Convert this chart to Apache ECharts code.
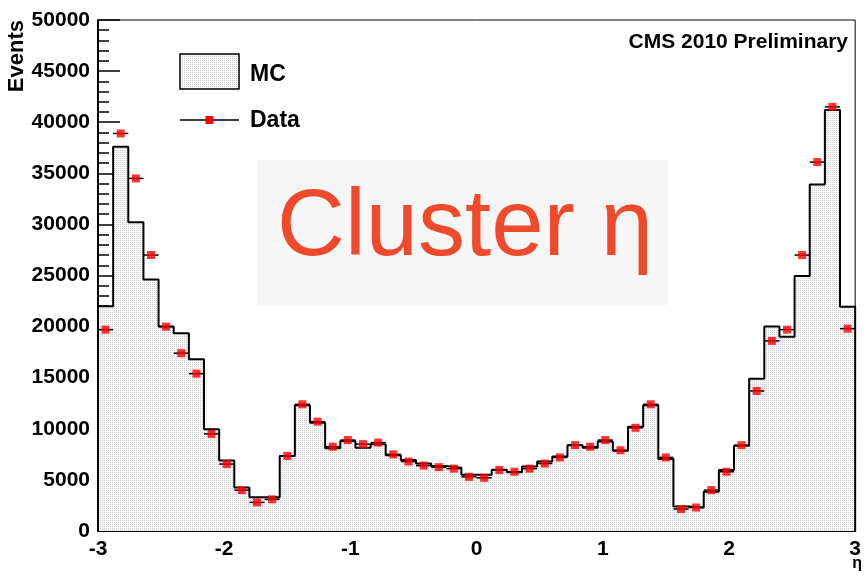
<!DOCTYPE html>
<html>
<head>
<meta charset="utf-8">
<script src="https://cdn.jsdelivr.net/npm/echarts@6/dist/echarts.min.js"></script>
<style>
html,body{margin:0;padding:0;background:#fff;}
#chart{width:864px;height:576px;}
</style>
</head>
<body>
<div id="chart"></div>
<script>
// ---- data ----
var binWidth = 0.12;
var etaCenters = [-2.94,-2.82,-2.70,-2.58,-2.46,-2.34,-2.22,-2.10,-1.98,-1.86,
                  -1.74,-1.62,-1.50,-1.38,-1.26,-1.14,-1.02,-0.90,-0.78,-0.66,
                  -0.54,-0.42,-0.30,-0.18,-0.06,0.06,0.18,0.30,0.42,0.54,
                  0.66,0.78,0.90,1.02,1.14,1.26,1.38,1.50,1.62,1.74,
                  1.86,1.98,2.10,2.22,2.34,2.46,2.58,2.70,2.82,2.94];
var mcValues = [22000,37600,30200,24600,20000,19350,16800,9950,6900,4250,
                3300,3300,7350,12300,10600,8100,8800,8150,8500,7400,
                6950,6600,6350,6200,5500,5500,6000,5750,6300,6800,
                7300,8400,8150,8750,7850,10200,12300,7050,2400,2300,
                3850,5970,8350,14900,20000,19000,24950,33900,41200,21950];
var dataValues = [19700,38900,34500,27000,20000,17400,15400,9500,6550,4000,
                  2800,3100,7350,12400,10700,8250,8900,8500,8650,7500,
                  6800,6400,6250,6100,5300,5200,5970,5800,6100,6600,
                  7200,8400,8250,8900,7900,10100,12400,7200,2150,2300,
                  4000,5800,8400,13700,18600,19700,27000,36100,41500,19800];
var xTicks = [-3,-2,-1,0,1,2,3];
var yTicks = [0,5000,10000,15000,20000,25000,30000,35000,40000,45000,50000];

// ---- build ----
var stepData = [[etaCenters[0]-binWidth/2, 0]];
for (var i = 0; i < etaCenters.length; i++) {
  stepData.push([etaCenters[i]-binWidth/2, mcValues[i]]);
  stepData.push([etaCenters[i]+binWidth/2, mcValues[i]]);
}
stepData.push([etaCenters[etaCenters.length-1]+binWidth/2, 0]);
var points = etaCenters.map(function(c, i){ return [c, dataValues[i]]; });

// dotted fill pattern
var pat = document.createElement('canvas');
pat.width = 2; pat.height = 2;
var pc = pat.getContext('2d');
pc.fillStyle = '#f7f7f7'; pc.fillRect(0,0,2,2);
pc.fillStyle = '#d2d2d2'; pc.fillRect(0,0,1,1);

var FONT = '"Liberation Sans", Arial, Helvetica, sans-serif';
var chart = echarts.init(document.getElementById('chart'), null, {renderer:'canvas'});
chart.setOption({
  animation: false,
  backgroundColor: '#ffffff',
  grid: {left: 98, right: 3, top: 20, bottom: 45, show: true, borderColor: '#000', borderWidth: 1, backgroundColor: 'transparent'},
  xAxis: {
    type: 'value', min: xTicks[0], max: xTicks[xTicks.length-1], interval: 1,
    axisLine: {onZero: false, lineStyle: {color: '#000', width: 2}},
    axisTick: {inside: true, length: 17, lineStyle: {color: '#000', width: 1.5}},
    minorTick: {show: true, splitNumber: 5, length: 9, lineStyle: {color: '#000', width: 1.5}},
    splitLine: {show: false},
    axisLabel: {color: '#000', fontWeight: 'bold', fontSize: 21, fontFamily: FONT, margin: 8,
                formatter: function(v){ return String(v); }}
  },
  yAxis: {
    type: 'value', min: yTicks[0], max: yTicks[yTicks.length-1], interval: 5000,
    axisLine: {onZero: false, lineStyle: {color: '#000', width: 2}},
    axisTick: {inside: true, length: 22, lineStyle: {color: '#000', width: 1.5}},
    minorTick: {show: true, splitNumber: 5, length: 11, lineStyle: {color: '#000', width: 1.5}},
    splitLine: {show: false},
    axisLabel: {color: '#000', fontWeight: 'bold', fontSize: 21, fontFamily: FONT, margin: 8,
                formatter: function(v){ return String(v); }}
  },
  series: [
    {
      name: 'MC', type: 'line', data: stepData, symbol: 'none', z: 2,
      lineStyle: {color: '#000', width: 2},
      areaStyle: {color: {image: pat, repeat: 'repeat'}, opacity: 1}
    },
    {
      name: 'DataErr', type: 'custom', data: points, z: 3,
      renderItem: function(params, api) {
        var c = api.value(0), v = api.value(1);
        var p1 = api.coord([c - binWidth/2, v]);
        var p2 = api.coord([c + binWidth/2, v]);
        return {type: 'line', shape: {x1: p1[0], y1: p1[1], x2: p2[0], y2: p2[1]},
                style: {stroke: '#000', lineWidth: 1.5}};
      }
    },
    {
      name: 'Data', type: 'scatter', data: points, symbol: 'rect', symbolSize: 8, z: 4,
      itemStyle: {color: '#ff0000'}
    }
  ],
  graphic: [
    {type: 'rect', shape: {x: 257, y: 160, width: 411, height: 145}, style: {fill: '#f6f6f6'}, z: 1},
    {type: 'text', x: 277, y: 182, style: {text: 'Cluster η', fill: '#ee4a2b', font: 'normal 94px ' + FONT, textAlign: 'left', textVerticalAlign: 'top'}, z: 10},
    {type: 'text', x: 848, y: 42, style: {text: 'CMS 2010 Preliminary', fill: '#000', font: 'bold 21px ' + FONT, textAlign: 'right', textVerticalAlign: 'middle'}, z: 10},
    {type: 'rect', shape: {x: 180, y: 54, width: 59, height: 35}, style: {fill: {image: pat, repeat: 'repeat'}, stroke: '#000', lineWidth: 1.5}, z: 10},
    {type: 'text', x: 250, y: 75, style: {text: 'MC', fill: '#000', font: 'bold 23px ' + FONT, textAlign: 'left', textVerticalAlign: 'middle'}, z: 10},
    {type: 'line', shape: {x1: 180, y1: 120, x2: 239, y2: 120}, style: {stroke: '#000', lineWidth: 1.5}, z: 10},
    {type: 'rect', shape: {x: 205.5, y: 116, width: 8, height: 8}, style: {fill: '#ff0000'}, z: 11},
    {type: 'text', x: 250, y: 121, style: {text: 'Data', fill: '#000', font: 'bold 23px ' + FONT, textAlign: 'left', textVerticalAlign: 'middle'}, z: 10},
    {type: 'text', x: 17, y: 20, rotation: Math.PI/2, style: {text: 'Events', fill: '#000', font: 'bold 22px ' + FONT, textAlign: 'right', textVerticalAlign: 'middle'}, z: 10},
    {type: 'text', x: 862, y: 564, style: {text: 'η', fill: '#000', font: 'bold 16px ' + FONT, textAlign: 'right', textVerticalAlign: 'middle'}, z: 10}
  ]
});
</script>
</body>
</html>
